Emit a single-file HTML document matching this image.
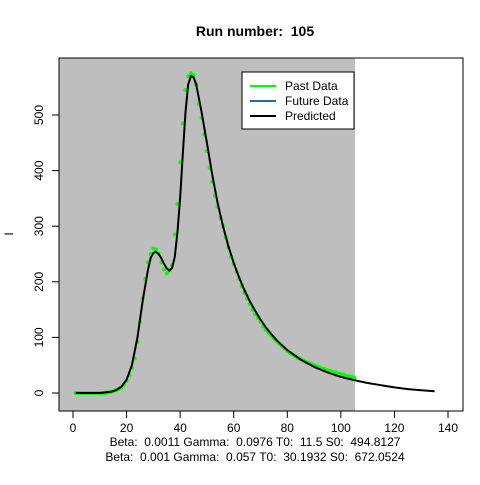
<!DOCTYPE html>
<html><head><meta charset="utf-8"><style>
body{margin:0;background:#fff;}
svg text{font-family:"Liberation Sans",sans-serif;white-space:pre;}
</style></head><body>
<svg id="chart" width="480" height="480" xmlns="http://www.w3.org/2000/svg">
<text x="255" y="36" text-anchor="middle" font-size="14" font-weight="bold" xml:space="preserve">Run number:  105</text>
<rect x="59" y="58" width="296" height="353" fill="#bebebe"/>
<rect x="59" y="58" width="404" height="353" fill="none" stroke="#000"/>
<g id="axes"></g>
<g id="series"></g>
<text transform="translate(13,234) rotate(-90)" text-anchor="middle" font-size="12">I</text>
<text x="255" y="446" text-anchor="middle" font-size="12" xml:space="preserve">Beta:  0.0011 Gamma:  0.0976 T0:  11.5 S0:  494.8127</text>
<text x="255" y="461" text-anchor="middle" font-size="12" xml:space="preserve">Beta:  0.001 Gamma:  0.057 T0:  30.1932 S0:  672.0524</text>
<g>
<rect x="242" y="72" width="112" height="57" fill="#fff" stroke="#000"/>
<line x1="250" y1="86" x2="276" y2="86" stroke="#00ff00" stroke-width="2"/>
<text x="285" y="90" font-size="12">Past Data</text>
<line x1="250" y1="101" x2="276" y2="101" stroke="#1a6fb0" stroke-width="2"/>
<text x="285" y="105" font-size="12">Future Data</text>
<line x1="250" y1="116" x2="276" y2="116" stroke="#000" stroke-width="2"/>
<text x="285" y="120" font-size="12">Predicted</text>
</g>
</svg>
<script>
const xTicks=[0,20,40,60,80,100,120,140];
const yTicks=[0,100,200,300,400,500];
const obsValues=[0,0,0,0,0,0,0,0,0,0,0,0,1,2,3,5,7,10,15,22,32,45,62,92,128,170,205,235,250,260,258,250,235,222,215,220,230,285,340,415,485,545,570,575,572,555,520,495,465,435,405,380,355,335,315,300,280,262,245,232,218,205,192,180,170,160,150,142,135,128,120,113,108,103,98,93,88,84,80,76,72,69,66,63,61,58,56,54,52,50,48,46,44,43,41,40,38,37,35,34,33,31,30,29,27];
const predDays=[1,10,12,14,16,18,20,22,24,26,28,29,30,31,32,33,34,35,36,37,38,39,40,41,42,43,44,45,46,47,48,50,52,54,56,58,60,62,64,66,68,70,72,74,76,78,80,85,90,95,100,105,110,115,120,125,130,135];
const predValues=[0,0,1,2,5,11,24,50,98,165,222,243,252,254,250,242,232,224,220,225,245,290,350,430,505,555,570,568,555,530,505,450,392,342,300,264,234,208,185,165,148,132,118,106,95,86,77,60,47,37,29,23,18,14,10,7,5,3];
const svg=document.getElementById('chart');
const NS='http://www.w3.org/2000/svg';
const sx=v=>73+v*375/140;
const sy=v=>393-v*278/500;
function mk(tag,attrs,parent){const e=document.createElementNS(NS,tag);for(const k in attrs)e.setAttribute(k,attrs[k]);parent.appendChild(e);return e;}
const ax=document.getElementById('axes');
xTicks.forEach(t=>{
 const l=mk('line',{x1:sx(t),x2:sx(t),y1:411,y2:418,stroke:'#000'},ax);
 
 
 const tx=mk('text',{x:sx(t),y:432,'text-anchor':'middle','font-size':12},ax);
 tx.textContent=t;
 
 
});
yTicks.forEach(t=>{
 const l=mk('line',{x1:52,x2:59,y1:sy(t),y2:sy(t),stroke:'#000'},ax);
 
 
 const tx=mk('text',{transform:`translate(43,${sy(t)}) rotate(-90)`,'text-anchor':'middle','font-size':12},ax);
 tx.textContent=t;
 
 
});
const sg=document.getElementById('series');
obsValues.forEach((v,i)=>{
 const c=mk('circle',{cx:sx(i+1),cy:sy(v),r:2,fill:'#00ff00'},sg);
 
 
});
const d=predDays.map((x,i)=>(i?'L':'M')+sx(x).toFixed(1)+','+sy(predValues[i]).toFixed(1)).join('');
const p=mk('path',{d:d,fill:'none',stroke:'#000','stroke-width':2,'stroke-linejoin':'round'},sg);


</script>
</body></html>
